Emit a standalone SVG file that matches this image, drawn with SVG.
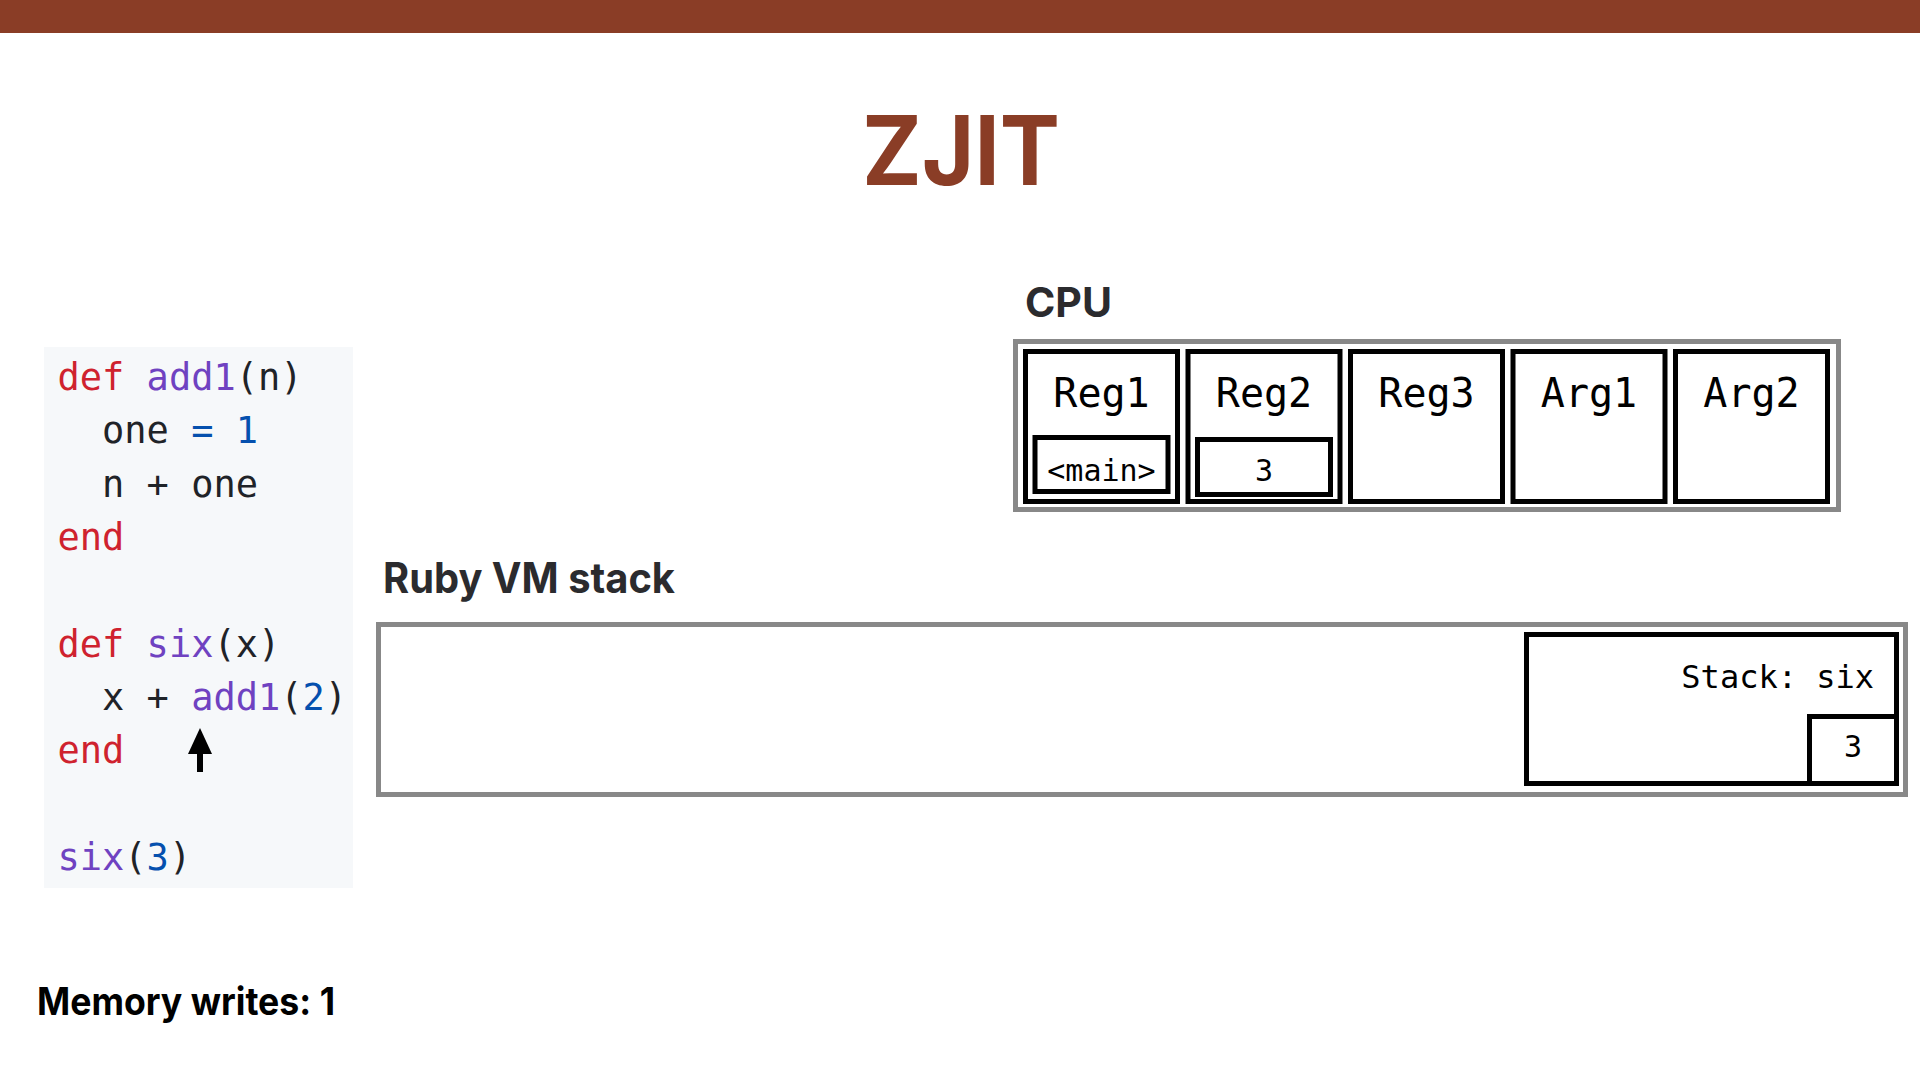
<svg xmlns="http://www.w3.org/2000/svg" width="1920" height="1080" viewBox="0 0 1920 1080">
  <defs>
    <style>
      .head { font-family: Inter, "Liberation Sans", sans-serif; font-weight: 700; }
      .mono { font-family: "DejaVu Sans Mono", "Liberation Mono", monospace; }
      .code { font-family: "DejaVu Sans Mono", "Liberation Mono", monospace; font-size: 37px; fill: #1f2328; }
      .kw { fill: #cf222e; }
      .fn { fill: #6f42c1; }
      .num { fill: #0550ae; }
      .outer { fill: #ffffff; stroke: #888888; stroke-width: 5; }
      .cell { fill: #ffffff; stroke: #000000; stroke-width: 5; }
      .cellLabel { font-size: 40px; fill: #000; text-anchor: middle; }
      .val { font-size: 30px; fill: #000; text-anchor: middle; }
    </style>
    <marker id="arrowHead" viewBox="0 0 26 24" refX="1" refY="12" markerWidth="26" markerHeight="24" markerUnits="userSpaceOnUse" orient="auto">
      <path d="M0,0 L26,12 L0,24 Z" fill="#000"/>
    </marker>
  </defs>

  <rect id="top-bar" x="0" y="0" width="1920" height="33" fill="#8a3d26"/>
  <text id="title" class="head" x="862" y="185" font-size="96" fill="#8a3d26" textLength="198" lengthAdjust="spacingAndGlyphs">ZJIT</text>

  <g id="code-block">
    <rect x="44" y="347" width="309" height="541" fill="#f6f8fa"/>
    <text class="code" x="57.5" y="390" xml:space="preserve"><tspan class="kw">def</tspan> <tspan class="fn">add1</tspan>(n)</text>
    <text class="code" x="57.5" y="443.3" xml:space="preserve">  one <tspan class="num">=</tspan> <tspan class="num">1</tspan></text>
    <text class="code" x="57.5" y="496.6" xml:space="preserve">  n + one</text>
    <text class="code" x="57.5" y="549.9" xml:space="preserve"><tspan class="kw">end</tspan></text>
    <text class="code" x="57.5" y="656.5" xml:space="preserve"><tspan class="kw">def</tspan> <tspan class="fn">six</tspan>(x)</text>
    <text class="code" x="57.5" y="709.8" xml:space="preserve">  x + <tspan class="fn">add1</tspan>(<tspan class="num">2</tspan>)</text>
    <text class="code" x="57.5" y="763.1" xml:space="preserve"><tspan class="kw">end</tspan></text>
    <text class="code" x="57.5" y="869.7" xml:space="preserve"><tspan class="fn">six</tspan>(<tspan class="num">3</tspan>)</text>
  </g>

  <g id="connectors">
    <line x1="200" y1="772" x2="200" y2="753" stroke="#000" stroke-width="6" marker-end="url(#arrowHead)"/>
  </g>

  <text id="memory-writes" class="head" x="37" y="1015" font-size="38" fill="#000" textLength="298" lengthAdjust="spacingAndGlyphs">Memory writes: 1</text>

  <g id="cpu">
    <text class="head" x="1025" y="317" font-size="41" fill="#2b2b2e" textLength="87" lengthAdjust="spacingAndGlyphs">CPU</text>
    <rect class="outer" x="1015.5" y="341.5" width="823" height="168"/>
    <g id="reg1">
      <rect class="cell" x="1025.5" y="351.5" width="152" height="150"/>
      <text class="mono cellLabel" x="1101.5" y="407">Reg1</text>
      <rect class="cell" x="1035" y="437.5" width="133" height="54"/>
      <text class="mono val" x="1101.5" y="481">&lt;main&gt;</text>
    </g>
    <g id="reg2">
      <rect class="cell" x="1188" y="351.5" width="152" height="150"/>
      <text class="mono cellLabel" x="1264" y="407">Reg2</text>
      <rect class="cell" x="1197.5" y="439.5" width="133" height="55"/>
      <text class="mono val" x="1264" y="481">3</text>
    </g>
    <g id="reg3">
      <rect class="cell" x="1350.5" y="351.5" width="152" height="150"/>
      <text class="mono cellLabel" x="1426.5" y="407">Reg3</text>
    </g>
    <g id="arg1">
      <rect class="cell" x="1513" y="351.5" width="152" height="150"/>
      <text class="mono cellLabel" x="1589" y="407">Arg1</text>
    </g>
    <g id="arg2">
      <rect class="cell" x="1675.5" y="351.5" width="152" height="150"/>
      <text class="mono cellLabel" x="1751.5" y="407">Arg2</text>
    </g>
  </g>

  <g id="vm-stack">
    <text class="head" x="383" y="593" font-size="42" fill="#2b2b2e" textLength="292" lengthAdjust="spacingAndGlyphs">Ruby VM stack</text>
    <rect class="outer" x="378.5" y="624.5" width="1527" height="170"/>
    <g id="frame-six">
      <rect class="cell" x="1526.5" y="634.5" width="370" height="149"/>
      <text class="mono" x="1874" y="688" font-size="32" fill="#000" text-anchor="end">Stack: six</text>
      <rect class="cell" x="1809.5" y="716.5" width="87" height="67"/>
      <text class="mono val" x="1853" y="757">3</text>
    </g>
  </g>
</svg>
